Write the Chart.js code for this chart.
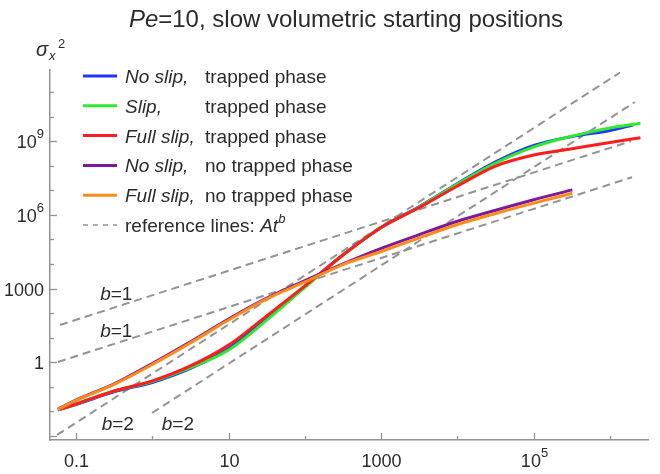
<!DOCTYPE html>
<html>
<head>
<meta charset="utf-8">
<script src="https://cdn.jsdelivr.net/npm/chart.js@4.4.0/dist/chart.umd.min.js"></script>
<style>
  html, body { margin: 0; padding: 0; background: #fff; }
  #wrap { width: 660px; height: 474px; }
</style>
</head>
<body>
<div id="wrap"><canvas id="grafica" width="660" height="474"></canvas></div>
<script>
// =======================
// DATOS
// =======================

// tiempos t
const tTrapped = [0.058, 0.1, 0.316, 1, 3.16, 10, 31.6, 100, 316, 1000, 3160, 1e4, 3.16e4, 1e5, 3.16e5, 1e6, 2.5e6];
const tNoSlipTrapped = [0.058, 0.1, 0.316, 1, 3.16, 10, 31.6, 100, 316, 1000, 3160, 1e4, 3.16e4, 1e5, 3.16e5, 1e6, 2.0e6];
const tNoTrapped = [0.058, 0.1, 0.316, 1, 3.16, 10, 31.6, 100, 316, 1000, 3160, 1e4, 3.16e4, 1e5, 3.2e5];

// sigma_x^2
const sNoSlipTrapped = [0.0115, 0.0191, 0.0631, 0.151, 0.562, 3.63, 60.3, 1200, 24000, 3.09e5, 2.19e6, 1.91e7, 1.45e8, 6.76e8, 1.55e9, 2.75e9, 4.57e9];
const sSlipTrapped = [0.0115, 0.020, 0.0676, 0.166, 0.603, 3.16, 52.5, 1120, 23400, 3.09e5, 2.09e6, 1.82e7, 1.29e8, 5.9e8, 1.62e9, 3.47e9, 5.37e9];
const sFullSlipTrapped = [0.0115, 0.020, 0.0676, 0.174, 0.708, 5.0, 77.6, 1290, 23400, 3.09e5, 2.0e6, 1.51e7, 9.8e7, 2.75e8, 4.9e8, 8.9e8, 1.38e9];
const sNoSlipNoTrapped = [0.0123, 0.0288, 0.132, 0.891, 6.76, 57.5, 407, 2140, 10200, 43600, 1.58e5, 5.5e5, 1.55e6, 4.17e6, 1.05e7];
const sFullSlipNoTrapped = [0.012, 0.0282, 0.126, 0.813, 6.17, 52.5, 380, 1860, 9550, 32400, 1.17e5, 4.07e5, 1.15e6, 3.02e6, 7.59e6];

// líneas de referencia A t^b : extremos [inicio, fin]
const refT = [[0.0617, 1.88e6], [0.058, 1.94e6], [0.0564, 1.35e6], [0.99, 2.12e6]];
const refS = [[33.0, 1.01e9], [1.03, 3.43e7], [0.0011, 6.3e11], [0.00862, 3.95e10]];

// etiquetas b=...
const bTexto = ['1', '1', '2', '2'];
const bT = [0.207, 0.207, 0.217, 1.33];
const bS = [344, 10.7, 0.00175, 0.00175];

// ejes: etiqueta = base + exponente
const xTickValues = [0.1, 1, 10, 100, 1000, 1e4, 1e5, 1e6];
const xTickBase = ['0.1', '', '10', '', '1000', '', '10', ''];
const xTickExp = ['', '', '', '', '', '', '5', ''];
const yTickValues = [1e-3, 1e-2, 1e-1, 1, 10, 100, 1000, 1e4, 1e5, 1e6, 1e7, 1e8, 1e9, 1e10, 1e11];
const yTickBase = ['', '', '', '1', '', '', '1000', '', '', '10', '', '', '10', '', ''];
const yTickExp = ['', '', '', '', '', '', '', '', '', '6', '', '', '9', '', ''];
const yMajor = [true, false, false, true, false, false, true, false, false, true, false, false, true, false, false];

// leyenda
const serieCursiva = ['No slip,', 'Slip,', 'Full slip,', 'No slip,', 'Full slip,'];
const serieTexto = ['trapped phase', 'trapped phase', 'trapped phase', 'no trapped phase', 'no trapped phase'];
const serieColor = ['#1f35ff', '#2fe82f', '#ff1c1c', '#7b1b9c', '#ff8a1a'];

const FUENTE = '"Liberation Sans", Arial, sans-serif';
const GRIS = '#939393';
const TEXTO = '#2b2b2b';

function puntos(ts, ss) {
  return ts.map((t, i) => ({ x: t, y: ss[i] }));
}

function serie(i, ts, ss, orden) {
  return {
    label: serieCursiva[i] + ' ' + serieTexto[i],
    data: puntos(ts, ss),
    borderColor: serieColor[i],
    borderWidth: 3,
    pointRadius: 0,
    cubicInterpolationMode: 'monotone',
    order: orden
  };
}

const datasets = [
  serie(0, tNoSlipTrapped, sNoSlipTrapped, 5),
  serie(1, tTrapped, sSlipTrapped, 4),
  serie(2, tTrapped, sFullSlipTrapped, 3),
  serie(3, tNoTrapped, sNoSlipNoTrapped, 2),
  serie(4, tNoTrapped, sFullSlipNoTrapped, 1)
];
refT.forEach((ts, i) => {
  datasets.push({
    label: 'ref' + i,
    data: puntos(ts, refS[i]),
    borderColor: GRIS,
    borderWidth: 2,
    borderDash: [8, 5],
    pointRadius: 0,
    tension: 0,
    order: 10
  });
});

// =======================
// PLUGINS: marcas y textos
// =======================

function trozos(ctx, x, y, partes) {
  partes.forEach(p => {
    ctx.font = p[1];
    ctx.fillText(p[0], x, y + (p[2] || 0));
    x += ctx.measureText(p[0]).width;
  });
  return x;
}

function ancho(ctx, partes) {
  let w = 0;
  partes.forEach(p => { ctx.font = p[1]; w += ctx.measureText(p[0]).width; });
  return w;
}

const marcas = {
  id: 'marcas',
  afterDraw(chart) {
    const { ctx, chartArea, scales } = chart;
    ctx.save();
    ctx.strokeStyle = GRIS;
    ctx.lineWidth = 1.3;
    ctx.fillStyle = TEXTO;
    ctx.textBaseline = 'alphabetic';
    ctx.textAlign = 'left';
    const fBase = '18px ' + FUENTE;
    const fExp = '13px ' + FUENTE;

    xTickValues.forEach((v, i) => {
      const px = Math.round(scales.x.getPixelForValue(v)) + 0.5;
      const len = xTickBase[i] ? 7 : 4;
      ctx.beginPath();
      ctx.moveTo(px, chartArea.bottom);
      ctx.lineTo(px, chartArea.bottom - len);
      ctx.stroke();
      if (xTickBase[i]) {
        const partes = [[xTickBase[i], fBase]];
        if (xTickExp[i]) partes.push([xTickExp[i], fExp, -10]);
        trozos(ctx, px - ancho(ctx, partes) / 2, chartArea.bottom + 27, partes);
      }
    });
    yTickValues.forEach((v, i) => {
      const py = Math.round(scales.y.getPixelForValue(v)) + 0.5;
      const len = yMajor[i] ? 7 : 4;
      ctx.beginPath();
      ctx.moveTo(chartArea.left, py);
      ctx.lineTo(chartArea.left + len, py);
      ctx.stroke();
      if (yTickBase[i]) {
        const partes = [[yTickBase[i], fBase]];
        if (yTickExp[i]) partes.push([yTickExp[i], fExp, -10]);
        trozos(ctx, chartArea.left - 6 - ancho(ctx, partes), py + 6.5, partes);
      }
    });
    ctx.restore();
  }
};

const textos = {
  id: 'textos',
  afterDraw(chart) {
    const { ctx, scales } = chart;
    ctx.save();
    ctx.fillStyle = TEXTO;
    ctx.textBaseline = 'alphabetic';
    ctx.textAlign = 'left';

    // título
    const titulo = [['Pe', 'italic 24px ' + FUENTE], ['=10, slow volumetric starting positions', '24px ' + FUENTE]];
    trozos(ctx, 346 - ancho(ctx, titulo) / 2, 27, titulo);

    // etiqueta del eje y
    trozos(ctx, 36, 56, [['σ', 'italic 20px ' + FUENTE]]);
    trozos(ctx, 49, 60, [['x', 'italic 13px ' + FUENTE]]);
    trozos(ctx, 58, 48, [['2', '13px ' + FUENTE]]);

    // leyenda
    const y0 = 76, paso = 29.8;
    serieCursiva.forEach((c, i) => {
      const y = y0 + i * paso;
      ctx.strokeStyle = serieColor[i];
      ctx.lineWidth = 3;
      ctx.beginPath();
      ctx.moveTo(83, y);
      ctx.lineTo(117, y);
      ctx.stroke();
      trozos(ctx, 125, y + 7, [[c, 'italic 19px ' + FUENTE]]);
      trozos(ctx, 205, y + 7, [[serieTexto[i], '19px ' + FUENTE]]);
    });
    const yr = y0 + 5 * paso;
    ctx.strokeStyle = GRIS;
    ctx.lineWidth = 1.5;
    ctx.setLineDash([5, 5]);
    ctx.beginPath();
    ctx.moveTo(83, yr);
    ctx.lineTo(117, yr);
    ctx.stroke();
    ctx.setLineDash([]);
    trozos(ctx, 125, yr + 7, [
      ['reference lines: ', '19px ' + FUENTE],
      ['At', 'italic 19px ' + FUENTE],
      ['b', 'italic 13px ' + FUENTE, -9]
    ]);

    // etiquetas b=...
    bTexto.forEach((txt, i) => {
      const px = scales.x.getPixelForValue(bT[i]);
      const py = scales.y.getPixelForValue(bS[i]);
      trozos(ctx, px, py, [['b', 'italic 19px ' + FUENTE], ['=' + txt, '19px ' + FUENTE]]);
    });
    ctx.restore();
  }
};

// =======================
// GRÁFICA
// =======================

const ctx = document.getElementById('grafica').getContext('2d');
new Chart(ctx, {
  type: 'line',
  data: { datasets },
  options: {
    responsive: false,
    animation: false,
    devicePixelRatio: 1,
    layout: { padding: { top: 70, right: 12, left: 0, bottom: 0 } },
    plugins: {
      legend: { display: false },
      title: { display: false },
      tooltip: { enabled: false }
    },
    scales: {
      x: {
        type: 'logarithmic',
        min: 0.0456,
        max: 3.14e6,
        afterBuildTicks: s => { s.ticks = xTickValues.map(v => ({ value: v })); },
        afterFit: s => { s.height = 34; },
        grid: { display: false, drawTicks: false },
        border: { display: true, color: GRIS, width: 1.5 },
        ticks: { display: false }
      },
      y: {
        type: 'logarithmic',
        min: 6.86e-4,
        max: 7.95e11,
        afterBuildTicks: s => { s.ticks = yTickValues.map(v => ({ value: v })); },
        afterFit: s => { s.width = 50; },
        grid: { display: false, drawTicks: false },
        border: { display: true, color: GRIS, width: 1.5 },
        ticks: { display: false }
      }
    }
  },
  plugins: [marcas, textos]
});
</script>
</body>
</html>
